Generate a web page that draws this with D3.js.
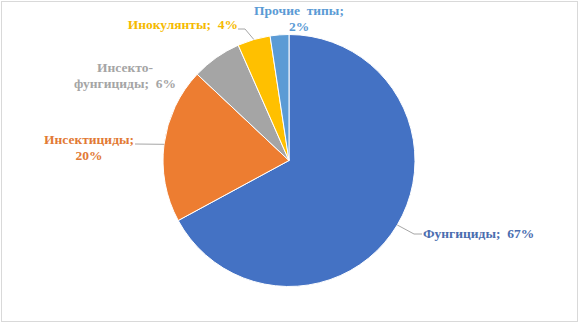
<!DOCTYPE html>
<html>
<head>
<meta charset="utf-8">
<script src="https://cdn.jsdelivr.net/npm/d3@7"></script>
<style>
  body { margin: 0; background: #fff; }
</style>
</head>
<body>
<svg id="chart-root" width="579" height="323"></svg>
<script>
// data
const categories = ['Фунгициды', 'Инсектициды', 'Инсекто-фунгициды', 'Инокулянты', 'Прочие типы'];
const values = [67.1, 19.9, 6.4, 4.2, 2.4];
const labelLines = [
    ['Фунгициды;  67%'],
    ['Инсектициды;', '20%'],
    ['Инсекто-', 'фунгициды;  6%'],
    ['Инокулянты;  4%'],
    ['Прочие  типы;', '2%']
];

const sliceColors = ['#4472C4', '#ED7D31', '#A5A5A5', '#FFC000', '#5B9BD5'];
const textColors = ['#4A6DAF', '#E27A35', '#A5A5A5', '#F5BA00', '#5B9BD5'];

// label placement (x, first baseline, anchor) and leader elbows
const labelPos = [
    { x: 423, y: 238, anchor: 'start', leader: [[414, 234], [422, 234]] },
    { x: 89, y: 144, anchor: 'middle', leader: [[135, 144]] },
    { x: 125, y: 72, anchor: 'middle', leader: null },
    { x: 238, y: 29, anchor: 'end', leader: [[245, 29], [238, 29]] },
    { x: 299, y: 15, anchor: 'middle', leader: null }
];

const svg = d3.select('#chart-root');
const width = +svg.attr('width');
const height = +svg.attr('height');
const cx = 289, cy = 160.5;
const radius = 126;
const lineHeight = 16;

// frame
svg.append('rect')
    .attr('x', 1.5).attr('y', 1.5)
    .attr('width', width - 3).attr('height', height - 3)
    .attr('fill', '#fff')
    .attr('stroke', '#d9d9d9');

const pie = d3.pie().sort(null).value(d => d.value);
const arc = d3.arc().innerRadius(0).outerRadius(radius);

const data = categories.map((c, i) => ({ name: c, value: values[i], i: i }));
const arcs = pie(data);

const g = svg.append('g').attr('transform', `translate(${cx}, ${cy})`);

g.selectAll('path')
    .data(arcs)
    .enter().append('path')
    .attr('d', arc)
    .attr('fill', d => sliceColors[d.data.i])
    .attr('stroke', '#fff')
    .attr('stroke-width', 1);

// leader lines from the slice edge at mid angle
arcs.forEach(d => {
    const p = labelPos[d.data.i];
    if (!p.leader) return;
    const mid = (d.startAngle + d.endAngle) / 2;
    const start = [cx + radius * Math.sin(mid), cy - radius * Math.cos(mid)];
    svg.append('path')
        .attr('d', d3.line()([start].concat(p.leader)))
        .attr('fill', 'none')
        .attr('stroke', '#a6a6a6')
        .attr('stroke-width', 1);
});

// labels
arcs.forEach(d => {
    const i = d.data.i;
    const p = labelPos[i];
    const t = svg.append('text')
        .attr('text-anchor', p.anchor)
        .style('font-family', '"Liberation Serif"')
        .style('font-weight', 'bold')
        .style('font-size', '13.5px')
        .style('white-space', 'pre')
        .attr('fill', textColors[i]);
    labelLines[i].forEach((line, k) => {
        t.append('tspan')
            .attr('x', p.x)
            .attr('y', p.y + k * lineHeight)
            .text(line);
    });
});
</script>
</body>
</html>
